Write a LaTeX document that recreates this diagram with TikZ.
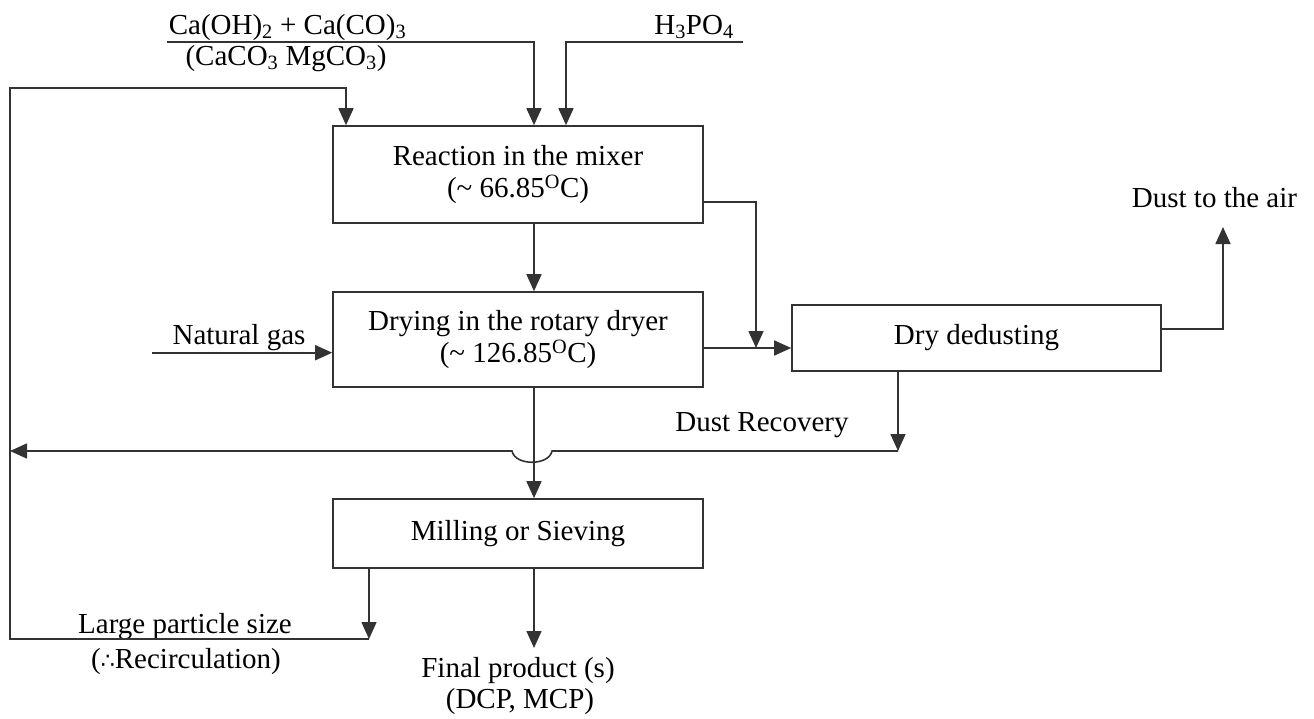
\documentclass[tikz,border=0pt]{standalone}
\usepackage{fontspec}
\setmainfont{Liberation Serif}
\newfontfamily\symfont{DejaVu Sans}
\usetikzlibrary{arrows.meta,calc}
\begin{document}
\begin{tikzpicture}[x=1pt,y=-1pt,
  line/.style={draw=black!80, line width=1.6pt},
  arr/.style={line, -{Triangle[length=17pt,width=15pt]}},
  proc/.style={draw=black!80, line width=1.6pt, align=center, inner sep=0pt, font=\fontsize{29}{32.5}\selectfont},
  lbl/.style={inner sep=0pt, anchor=base, font=\fontsize{29}{31}\selectfont}]
\useasboundingbox (0,0) rectangle (1314,718);

% process boxes
\node[proc, minimum width=370pt, minimum height=97pt] (mix) at (518,174.5) {Reaction in the mixer\\(\textasciitilde{} 66.85\textsuperscript{O}C)};
\node[proc, minimum width=370pt, minimum height=95pt] (dry) at (518,339.5) {Drying in the rotary dryer\\(\textasciitilde{} 126.85\textsuperscript{O}C)};
\node[proc, minimum width=369pt, minimum height=66pt] (dedust) at (976.5,338) {Dry dedusting};
\node[proc, minimum width=370pt, minimum height=69pt] (mill) at (518,533.5) {Milling or Sieving};

% labels
\node[lbl] (ca) at (287.5,34) {Ca(OH)\textsubscript{2} + Ca(CO)\textsubscript{3}};
\node[lbl] (camg) at (286,65) {(CaCO\textsubscript{3} MgCO\textsubscript{3})};
\node[lbl] (h3po4) at (694,34) {H\textsubscript{3}PO\textsubscript{4}};
\node[lbl] (ngas) at (239,344) {Natural gas};
\node[lbl] (air) at (1214.5,207) {Dust to the air};
\node[lbl] (drec) at (762,431) {Dust Recovery};
\node[lbl] (large) at (185,633) {Large particle size};
\node[lbl] (recirc) at (186,668) {({\symfont\fontsize{22}{24}\selectfont ∴}Recirculation)};
\node[lbl] (fp1) at (518,677) {Final product (s)};
\node[lbl] (fp2) at (520,708) {(DCP, MCP)};

% free ends and corners
\coordinate (caL) at (167,42);
\coordinate (hR) at (743,42);
\coordinate (cB) at (369,639);
\coordinate (cBL) at (10,639);
\coordinate (cTL) at (10,88);
\coordinate (cTR) at (346,88);
\coordinate (mixR) at (756,202);
\coordinate (jn) at (756,348);
\coordinate (dR) at (1223,329);
\coordinate (dT) at (1223,227);
\coordinate (rc) at (898,451);
\coordinate (ng) at (152,352.7);
\coordinate (fpT) at (534,648);

% connectors
\draw[arr] (caL) -| ([xshift=16pt]mix.north);
\draw[arr] (hR) -| ([xshift=48pt]mix.north);
\draw[arr] ([xshift=-149pt]mill.south) -- (cB);
\draw[arr] (cB) -- (cBL) -- (cTL) -- (cTR) -- (cTR |- mix.north);
\draw[arr] ([xshift=16pt]mix.south) -- ([xshift=16pt]dry.north);
\draw[arr] (mix.east |- mixR) -- (mixR) -- (jn);
\draw[arr] (dry.east |- jn) -- (dedust.west |- jn);
\draw[arr] (dedust.east |- dR) -- (dR) -- (dT);
\draw[arr] (dedust.south -| rc) -- (rc);
\draw[arr] (rc) -- (552,451) .. controls (549,466) and (515,466) .. (512,451) -- (cTL |- rc);
\draw[arr] ([xshift=16pt]dry.south) -- ([xshift=16pt]mill.north);
\draw[arr] ([xshift=16pt]mill.south) -- (fpT);
\draw[arr] (ng) -- (dry.west |- ng);
\end{tikzpicture}
\end{document}
